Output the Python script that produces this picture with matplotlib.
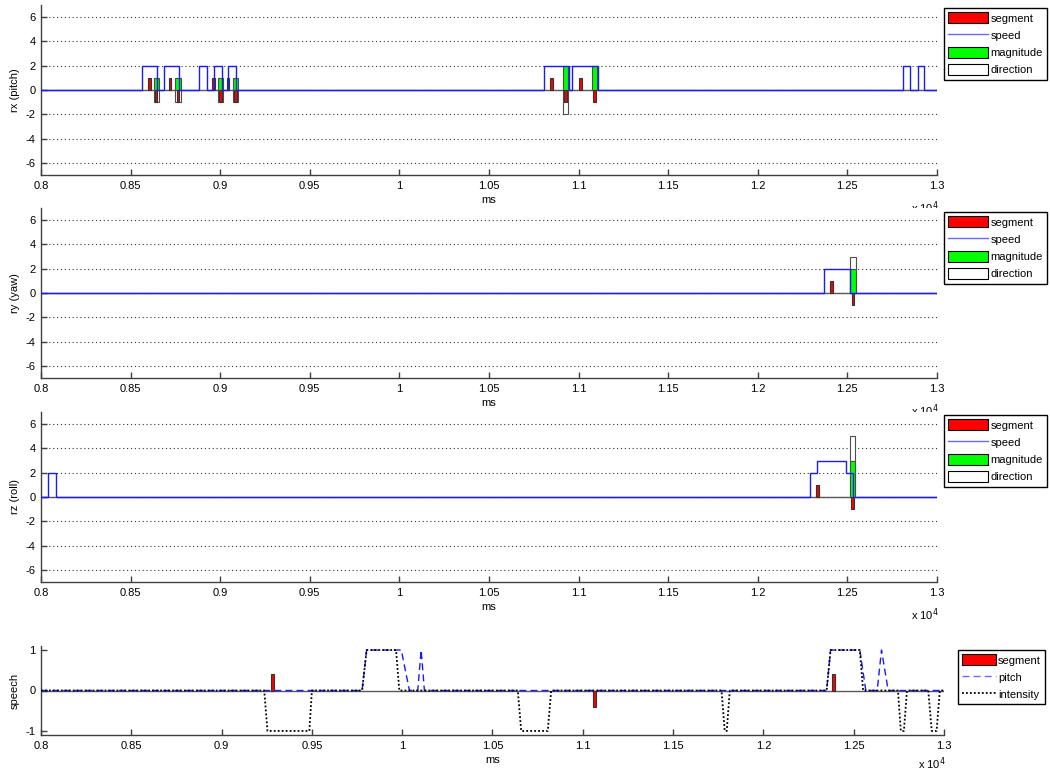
import numpy as np
import matplotlib.pyplot as plt
from matplotlib.patches import Patch
from matplotlib.lines import Line2D

plt.rcParams['font.family'] = ['Liberation Sans', 'DejaVu Sans']
plt.rcParams['font.size'] = 8
plt.rcParams['axes.unicode_minus'] = False

# rx (pitch)
rx_speed_t = [8000, 8561, 8647, 8684, 8768, 8883, 8926, 8967, 9010, 9044, 9088,
              10807, 10947, 10965, 11108, 12813, 12852, 12893, 12930, 13000]
rx_speed_v = [0, 2, 0, 2, 0, 2, 0, 2, 0, 2, 0, 2, 0, 2, 0, 2, 0, 2, 0, 0]
rx_seg_t = [8605, 8643, 8721, 8765, 8964, 9001, 9043, 9084, 10848, 10926, 11012, 11090]
rx_seg_v = [1, -1, 1, -1, 1, -1, 1, -1, 1, -1, 1, -1]
rx_mag_t = [8645, 8765, 9001, 9084, 10928, 11090]
rx_mag_v = [1, 1, 1, 1, 2, 2]
rx_dir_v = [-1, -1, -1, -1, -2, 0]

# ry (yaw)
ry_speed_t = [8000, 12371, 12516, 13000]
ry_speed_v = [0, 2, 0, 0]
ry_seg_t = [12411, 12531]
ry_seg_v = [1, -1]
ry_mag_t = [12531]
ry_mag_v = [2]
ry_dir_v = [3]

# rz (roll)
rz_speed_t = [8000, 8041, 8083, 12291, 12330, 12492, 12533, 13000]
rz_speed_v = [0, 2, 0, 2, 3, 2, 0, 0]
rz_seg_t = [12332, 12529]
rz_seg_v = [1, -1]
rz_mag_t = [12529]
rz_mag_v = [3]
rz_dir_v = [5]

# speech
sp_seg_t = [9280, 11065, 12390]
sp_seg_v = [0.4, -0.4, 0.4]
pitch_t = [8000, 9778, 9803, 9995, 10040, 10086, 10105, 10123,
           12350, 12372, 12534, 12567, 12630, 12654, 12691, 13005]
pitch_v = [0, 0, 1, 1, 0, 0, 1, 0, 0, 1, 1, 0, 0, 1, 0, 0]
inten_t = [8000, 9236, 9254, 9486, 9500, 9778, 9803, 9966, 9984,
           10640, 10659, 10806, 10825, 11768, 11786, 11797, 11814,
           12350, 12372, 12534, 12552, 12745, 12761, 12778, 12795,
           12913, 12932, 12959, 12977, 13005]
inten_v = [0, 0, -1, -1, 0, 0, 1, 1, 0,
           0, -1, -1, 0, 0, -1, -1, 0,
           0, 1, 1, 0, 0, -1, -1, 0,
           0, -1, -1, 0, 0]

xticks = np.arange(8000, 13001, 500)
xticklabels = [f'{t / 1e4:g}' for t in xticks]

W, H = 1050, 773
fig = plt.figure(figsize=(W / 100, H / 100), dpi=100)


def px_axes(left, top, right, bottom):
    return fig.add_axes([left / W, 1 - bottom / H, (right - left) / W, (bottom - top) / H])


def style_axes(ax, exp_offset=-33):
    for s in ['top', 'right']:
        ax.spines[s].set_visible(False)
    for s in ['left', 'bottom']:
        ax.spines[s].set_color('0.25')
        ax.spines[s].set_linewidth(1.0)
    ax.tick_params(direction='in', length=4.5, width=1.0, color='0.25', pad=4, labelsize=8)
    ax.set_xticks(xticks)
    ax.set_xticklabels(xticklabels)
    ax.set_xlabel('ms', labelpad=3)
    ax.annotate(r'x 10$^4$', xy=(1, 0), xycoords='axes fraction',
                xytext=(2, exp_offset), textcoords='offset pixels', ha='right', va='center')


red_w, wide_w = 14, 30
legend_kw = dict(loc='upper left', bbox_transform=fig.transFigure, fancybox=False,
                 edgecolor='k', framealpha=1, borderaxespad=0, fontsize=8,
                 handletextpad=0.2, labelspacing=0.55,
                 borderpad=0.4, handleheight=1.1)


def motion_panel(ax, speed_t, speed_v, seg_t, seg_v, mag_t, mag_v, dir_v, ylabel, leg_top):
    ax.axhline(0, color='0.35', lw=1.0, zorder=1)
    dt = [t for t, d in zip(mag_t, dir_v) if d != 0]
    dv = [d for d in dir_v if d != 0]
    ax.bar(dt, dv, width=wide_w, color='white', edgecolor='0.3', lw=0.8, zorder=2)
    ax.bar(mag_t, mag_v, width=wide_w, color='#00ff00', edgecolor='0.3', lw=0.8, zorder=3)
    ax.bar(seg_t, seg_v, width=red_w, color='red', edgecolor='0.2', lw=0.8, zorder=4)
    ax.plot(speed_t, speed_v, drawstyle='steps-post', color='#1a1aff', lw=1.0, zorder=5)
    ax.set_xlim(8000, 13000)
    ax.set_ylim(-7, 7)
    ax.set_yticks([-6, -4, -2, 0, 2, 4, 6])
    ax.yaxis.grid(True, linestyle=(0, (1, 2.5)), color='0.2', lw=0.8)
    ax.set_axisbelow(True)
    ax.set_ylabel(ylabel)
    style_axes(ax)
    handles = [Patch(facecolor='red', edgecolor='k', lw=0.8),
               Line2D([], [], color='#6a6aff', lw=1.0),
               Patch(facecolor='#00ff00', edgecolor='k', lw=0.8),
               Patch(facecolor='white', edgecolor='k', lw=0.8)]
    ax.legend(handles, ['segment', 'speed', 'magnitude', 'direction'],
              bbox_to_anchor=(944 / W, 1 - leg_top / H), handlelength=3.6, **legend_kw)


ax1 = px_axes(41, 5, 937, 175)
motion_panel(ax1, rx_speed_t, rx_speed_v, rx_seg_t, rx_seg_v, rx_mag_t, rx_mag_v, rx_dir_v,
             'rx (pitch)', 8)
ax2 = px_axes(41, 208, 937, 378)
motion_panel(ax2, ry_speed_t, ry_speed_v, ry_seg_t, ry_seg_v, ry_mag_t, ry_mag_v, ry_dir_v,
             'ry (yaw)', 212)
ax3 = px_axes(41, 412, 937, 582)
motion_panel(ax3, rz_speed_t, rz_speed_v, rz_seg_t, rz_seg_v, rz_mag_t, rz_mag_v, rz_dir_v,
             'rz (roll)', 415)

# speech panel
ax4 = px_axes(41, 646, 944, 735)
ax4.axhline(0, color='0.35', lw=1.0, zorder=1)
ax4.bar(sp_seg_t, sp_seg_v, width=red_w + 4, color='red', edgecolor='0.2', lw=0.8, zorder=2)
ax4.plot(pitch_t, pitch_v, color='#1a1aff', lw=1.0, linestyle=(0, (5, 3)), zorder=3)
ax4.plot(inten_t, inten_v, color='k', lw=1.3, linestyle=(0, (1, 1.2)), zorder=4)
ax4.set_xlim(8000, 13000)
ax4.set_ylim(-1.1, 1.1)
ax4.set_yticks([-1, 0, 1])
ax4.set_ylabel('speech')
style_axes(ax4, exp_offset=-29)
sp_handles = [Patch(facecolor='red', edgecolor='k', lw=0.8),
              Line2D([], [], color='#6a6aff', lw=1.0, linestyle=(0, (5, 3))),
              Line2D([], [], color='k', lw=1.3, linestyle=(0, (1, 1.2)))]
ax4.legend(sp_handles, ['segment', 'pitch', 'intensity'],
           bbox_to_anchor=(958 / W, 1 - 650 / H), handlelength=3.0, **legend_kw)

fig.savefig('out.png', dpi=100)
